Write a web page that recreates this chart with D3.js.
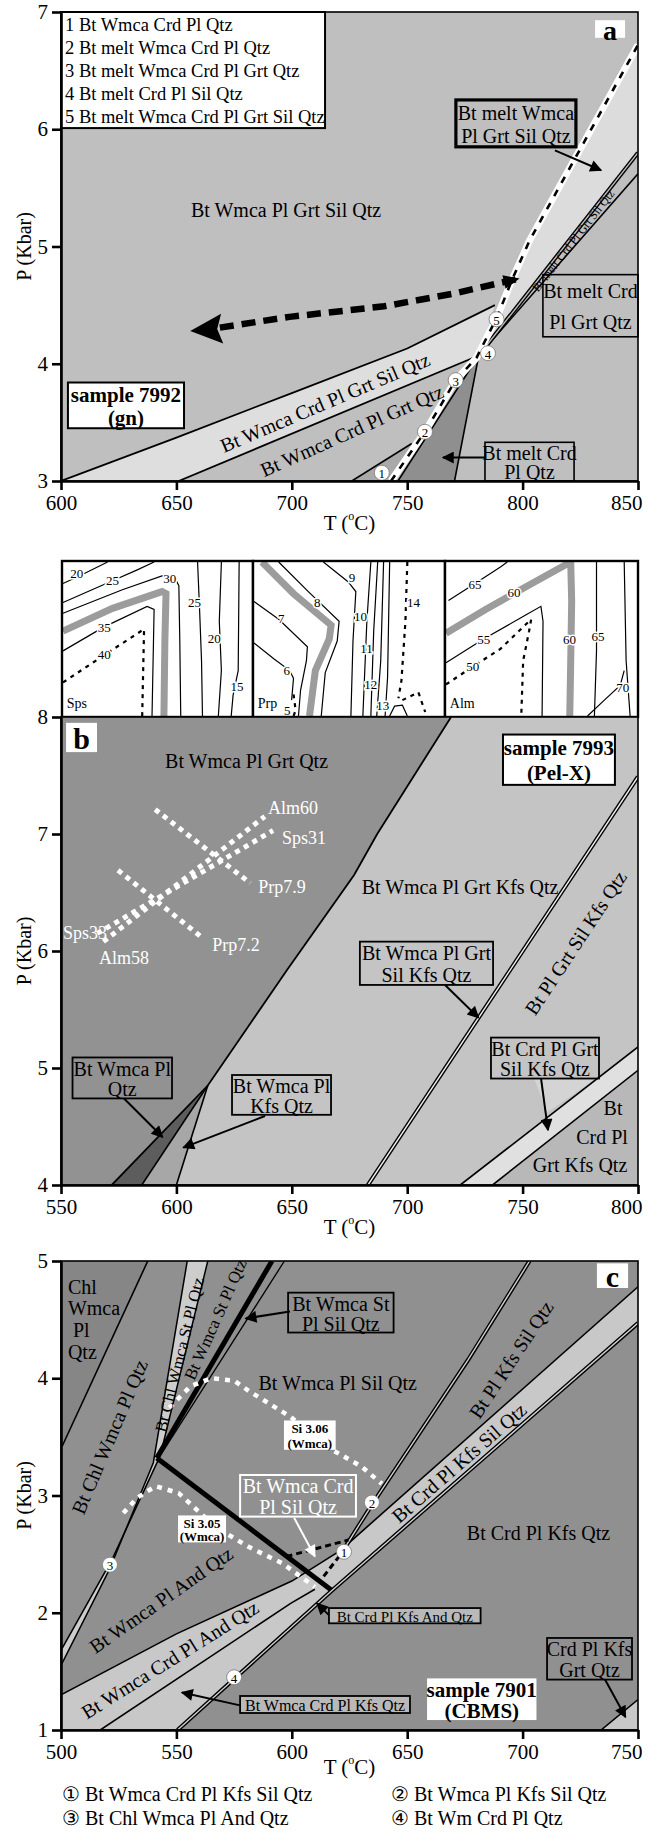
<!DOCTYPE html>
<html>
<head>
<meta charset="utf-8">
<script src="https://cdn.jsdelivr.net/npm/d3@7/dist/d3.min.js"></script>
<style>
  body { margin: 0; background: #fff; }
</style>
</head>
<body>
<div id="root"></div>
<script>
// ---------- panel a : sample 7992 (gn) ----------
const aTicksT = [600, 650, 700, 750, 800, 850];
const aTicksP = [3, 4, 5, 6, 7];
const aLegend = ["1 Bt Wmca Crd Pl Qtz", "2 Bt melt Wmca Crd Pl Qtz", "3 Bt melt Wmca Crd Pl Grt Qtz",
  "4 Bt melt Crd Pl Sil Qtz", "5 Bt melt Wmca Crd Pl Grt Sil Qtz"];
const aBandUpper = [[600, 3.0], [650, 3.37], [700, 3.75], [750, 4.13], [788, 4.5]];
const aBandLower = [[651, 3.0], [781, 4.07]];
const aField1 = [[726, 3.0], [743, 3.0], [752, 3.32]];
const aDarkField = [[746, 3.0], [770.5, 3.0], [781, 4.07]];
const aMeltBand = [[781, 4.07], [789, 4.4], [795.5, 4.72], [803, 5.05], [850, 6.72], [850, 5.8]];
const aWhiteDash = [[743, 3.0], [758, 3.43], [771, 3.86], [780, 4.05], [789, 4.4], [795.5, 4.72], [803, 5.05], [850, 6.72]];
const aLineA = [[781, 4.07], [850, 5.8]];
const aLineB = [[770.5, 3.0], [781, 4.07], [850, 5.62]];
const aLineDark = [[746, 3.0], [781, 4.07]];
const aLine1 = [[726, 3.0], [752, 3.32]];
const aPath = [[797, 4.72], [770.5, 4.6], [740, 4.49], [699, 4.4], [663, 4.29], [656, 4.28]];
const aPoints = [{n: "1", t: 739, p: 3.07}, {n: "2", t: 757.7, p: 3.42}, {n: "3", t: 771, p: 3.86},
  {n: "4", t: 785, p: 4.09}, {n: "5", t: 788.7, p: 4.38}];

// ---------- insets (normalised 0-100 frames) ----------
const insetNames = ["Sps", "Prp", "Alm"];
const insetSolid = [
  [[[0, 86], [10.5, 92], [23.6, 100]],
   [[83.8, 100], [82.7, 61.5], [83.8, 29.5], [82.2, 0]],
   [[0, 73.7], [26.2, 87.8], [39.3, 94.9], [48.2, 100]],
   [[71.2, 100], [72.3, 68], [73.3, 35.9], [73.8, 0]],
   [[0, 66.7], [31.4, 82], [52.4, 91], [58.6, 91], [61.3, 84.6], [61.8, 48.7], [62.3, 0]],
   [[0, 42.3], [21.5, 57.7], [44.5, 71.2], [48.2, 69.2], [47.1, 0]],
   [[93.2, 100], [92.7, 29.5], [90, 13.5], [89, 0]]],
  [[[13, 100], [28.6, 80.8], [44.8, 61.5], [43.8, 48.7], [37.5, 28.2], [35.4, 0]],
   [[0, 74.4], [13, 62.8], [28.1, 44.9], [27.6, 35.9], [24.5, 16.7], [23.4, 0]],
   [[0, 47.4], [10.4, 37.2], [18.8, 29.5], [20.8, 24.4], [19.8, 10.3]],
   [[36.5, 100], [49.5, 87.2], [53.6, 80.8], [52.1, 48.7], [51, 0]],
   [[61.5, 100], [59.4, 61.5], [57.3, 0]],
   [[65.1, 100], [63, 55.1], [61.5, 0]],
   [[68.2, 100], [66.7, 35.9], [64.6, 0]],
   [[71.4, 100], [70.3, 25], [69, 0]],
   [[71.4, 0], [74, 6.4], [78.1, 7], [80.7, 0]]],
  [[[1.3, 75], [15, 85.9], [28.5, 96.8], [32.1, 100]],
   [[0, 34.6], [19.7, 50], [41.5, 65.4], [49.7, 71.2], [50.8, 61.5], [50.3, 0]],
   [[78.8, 100], [78.8, 42.3], [77.7, 0]],
   [[93.3, 100], [94.3, 35.9], [96.4, 0]],
   [[74.1, 0], [82.9, 10.3], [91.2, 19.9], [93.3, 29.5]]]
];
const insetBand = [
  [[0, 55.1], [26.2, 69.9], [52.4, 80.8], [54.5, 79.5], [53.9, 48.7], [53.4, 0]],
  [[4.2, 100], [20.8, 79.5], [40.6, 59], [39.6, 50], [32.3, 29.5], [29.2, 0]],
  [[0, 53.8], [20.7, 69.2], [46.6, 87.2], [65.3, 100], [65.8, 74.4], [65.3, 35.9], [64.8, 0]]
];
const insetDashed = [
  [[[0, 21.8], [22, 39.7], [42.9, 56.4], [41.9, 0]]],
  [[[80.7, 100], [79.7, 61.5], [77.6, 23], [76, 11.5]], [[78.1, 10.3], [86.5, 15.4], [90.1, 2.6]],
   [[20.8, 14.1], [21.9, 3.8], [20.8, 0]]],
  [[[0, 20.5], [14, 32], [28.5, 43.6], [44.6, 62.8], [43.5, 55.1], [40.4, 35.9], [39.4, 0]]]
];
const insetLabels = [
  [["20", 7.3, 92.3], ["25", 26.2, 87.8], ["30", 56.5, 89.1], ["35", 21.8, 57.7], ["40", 21.8, 39.7],
   ["25", 69.6, 73.7], ["20", 80, 50.6], ["15", 92.1, 19.2]],
  [["7", 14.4, 63.5], ["8", 33.3, 73.9], ["9", 51.6, 89.7], ["10", 56, 64.3], ["11", 59.2, 44],
   ["12", 61.4, 20.5], ["13", 67.7, 6.6], ["14", 83.9, 73.7], ["6", 17.2, 29.5], ["5", 17.5, 3.5]],
  [["65", 15.2, 85.7], ["60", 35.6, 80.1], ["55", 19.7, 50], ["50", 14, 32], ["60", 64.6, 50],
   ["65", 79.6, 51.3], ["70", 92.5, 18.6]]
];

// ---------- panel b : sample 7993 (Pel-X) ----------
const bTicksT = [550, 600, 650, 700, 750, 800];
const bTicksP = [4, 5, 6, 7, 8];
const bDarkEdge = [[719, 8], [687, 7], [677, 6.65], [648, 5.84], [613.6, 4.85], [572, 4]];
const bWedgeDark = [[572, 4], [585, 4], [613.6, 4.85]];
const bWedgeMid = [[585, 4], [600, 4], [613.6, 4.85]];
const bSilLine = [[683, 4], [800, 7.49]];
const bCrdUpper = [[723, 4], [800, 5.18]];
const bCrdLower = [[737, 4], [800, 4.98]];
const bIso = [
  {name: "Alm", pts: [[568.4, 6.08], [638.3, 7.15]]},
  {name: "Sps", pts: [[565.7, 6.15], [641.9, 7.03]]},
  {name: "Prp7.9", pts: [[590.8, 7.21], [632, 6.58]]},
  {name: "Prp7.2", pts: [[574.7, 6.69], [611.4, 6.11]]}
];
const bIsoLabels = [["Alm60", 650.5, 7.22], ["Sps31", 655.3, 6.97], ["Prp7.9", 645.8, 6.55],
  ["Prp7.2", 625.8, 6.05], ["Sps33", 560.4, 6.15], ["Alm58", 577.3, 5.94]];

// ---------- panel c : sample 7901 (CBMS) ----------
const cTicksT = [500, 550, 600, 650, 700, 750];
const cTicksP = [1, 2, 3, 4, 5];
const cChl = [[500.5, 3.42], [537.6, 5]];
const cStBandLeft = [[500, 1.55], [521, 2.37], [540, 3.28], [554.7, 5]];
const cStBandRight = [[500, 1.68], [522, 2.45], [543, 3.34], [563.6, 5]];
const cStUpper = [[541.5, 3.32], [591.4, 5]];
const cStThin = [[543, 3.34], [596.8, 5]];
const cStLower = [[541.5, 3.32], [617.4, 2.19]];
const cLA = [[500, 1.3], [550, 1.82], [600, 2.27], [621, 2.53]];
const cLB = [[517, 1], [599.5, 2.08], [610, 2.2]];
const cDL = [[550.5, 1], [617.4, 2.19], [750, 4.47]];
const cLU = [[621, 2.53], [750, 4.78]];
const cDL2 = [[622.8, 2.55], [635.3, 2.94], [676.5, 4.16], [703, 5]];
const cGrt = [[734, 1], [750, 1.26]];
const cSi306 = [[547, 3.75], [556, 3.93], [565, 4.0], [575, 3.98], [581.5, 3.89], [599.5, 3.67],
  [617.4, 3.39], [630, 3.25], [639, 3.1]];
const cSi305 = [[527, 2.85], [533, 2.98], [541, 3.08], [551, 3.02], [567, 2.73], [581.5, 2.56],
  [596, 2.42], [610, 2.22]];
const cReact = [[[597.7, 2.48], [624.5, 2.62]], [[613.8, 2.31], [622.8, 2.54]]];
const cPoints = [{n: "1", t: 622.6, p: 2.52}, {n: "2", t: 634.7, p: 2.94},
  {n: "3", t: 521.2, p: 2.41}, {n: "4", t: 575, p: 1.45}];
const cLegend = ["\u2460 Bt Wmca Crd Pl Kfs Sil Qtz", "\u2461 Bt Wmca Pl Kfs Sil Qtz",
  "\u2462 Bt Chl Wmca Pl And Qtz", "\u2463 Bt Wm Crd Pl Qtz"];

// ---------- drawing ----------
const SERIF = '"Liberation Serif", "Times New Roman", serif';
const X0 = 61, X1 = 638;
const svg = d3.select("#root").append("svg").attr("width", 649).attr("height", 1836)
  .style("font-family", SERIF);
const defs = svg.append("defs");
["black", "white"].forEach(c => {
  defs.append("marker").attr("id", "arr-" + c).attr("viewBox", "0 0 10 10")
    .attr("refX", 9).attr("refY", 5).attr("markerWidth", 14).attr("markerHeight", 12)
    .attr("markerUnits", "userSpaceOnUse").attr("orient", "auto")
    .append("path").attr("d", "M0,0L10,5L0,10z").attr("fill", c);
});

let panel = (tDom, pDom, yTop, yBot) => ({
  x: d3.scaleLinear().domain(tDom).range([X0, X1]),
  y: d3.scaleLinear().domain(pDom).range([yBot, yTop])
});
const sA = panel([600, 850], [3, 7], 12, 481);
const sB = panel([550, 800], [4, 8], 717, 1185);
const sC = panel([500, 750], [1, 5], 1261, 1730);

let lineGen = s => d3.line().x(d => s.x(d[0])).y(d => s.y(d[1]));
let polyGen = s => d3.line().x(d => s.x(d[0])).y(d => s.y(d[1])).curve(d3.curveLinearClosed);

let poly = (g, s, pts, fill) => g.append("path").attr("d", polyGen(s)(pts)).attr("fill", fill);
let path = (g, s, pts, w, col, dash) => g.append("path").attr("d", lineGen(s)(pts))
  .attr("fill", "none").attr("stroke", col || "#000").attr("stroke-width", w || 1.6)
  .attr("stroke-dasharray", dash || null);
let dbl = (g, s, pts, inner) => {
  path(g, s, pts, 4.2, "#000");
  path(g, s, pts, 1.4, inner || "#eee");
};
let txt = (g, s, t, p, str, o = {}) => {
  const el = g.append("text").attr("x", s.x(t)).attr("y", s.y(p))
    .attr("font-size", o.size || 20).attr("font-weight", o.bold ? "bold" : null)
    .attr("fill", o.fill || "#000").attr("text-anchor", o.anchor || "middle")
    .attr("dominant-baseline", "central").text(str);
  if (o.rot) el.attr("transform", `rotate(${o.rot},${s.x(t)},${s.y(p)})`);
  return el;
};
// b = [tLeft, pTop, tRight, pBottom]
let boxLabel = (g, s, b, lines, o = {}) => {
  const x0 = s.x(b[0]), x1 = s.x(b[2]), y0 = s.y(b[1]), y1 = s.y(b[3]);
  g.append("rect").attr("x", x0).attr("y", y0).attr("width", x1 - x0).attr("height", y1 - y0)
    .attr("fill", o.bg || "none").attr("stroke", o.stroke || "#000")
    .attr("stroke-width", o.sw === undefined ? 1.8 : o.sw);
  const lh = (y1 - y0) / lines.length;
  lines.forEach((l, i) => g.append("text").attr("x", (x0 + x1) / 2).attr("y", y0 + lh * (i + 0.5) + 1)
    .attr("text-anchor", "middle").attr("dominant-baseline", "central")
    .attr("font-size", o.size || 20).attr("font-weight", o.bold ? "bold" : null)
    .attr("fill", o.fill || "#000").text(l));
};
let arrow = (g, s, a, b, col) => g.append("line")
  .attr("x1", s.x(a[0])).attr("y1", s.y(a[1])).attr("x2", s.x(b[0])).attr("y2", s.y(b[1]))
  .attr("stroke", col || "#000").attr("stroke-width", 2).attr("marker-end", `url(#arr-${col || "black"})`);
let circ = (g, s, d) => {
  g.append("circle").attr("cx", s.x(d.t)).attr("cy", s.y(d.p)).attr("r", 7.5)
    .attr("fill", "#fff").attr("stroke", "#777").attr("stroke-width", 0.8);
  g.append("text").attr("x", s.x(d.t)).attr("y", s.y(d.p) + 1).attr("text-anchor", "middle")
    .attr("dominant-baseline", "central").attr("font-size", 13).text(d.n);
};
let clipped = (id, s) => {
  defs.append("clipPath").attr("id", id).append("rect")
    .attr("x", X0).attr("y", s.y.range()[1]).attr("width", X1 - X0)
    .attr("height", s.y.range()[0] - s.y.range()[1]);
  return svg.append("g").attr("clip-path", `url(#${id})`);
};
let axes = (s, tTicks, pTicks, yTitle, tTitleY) => {
  const g = svg.append("g");
  g.append("rect").attr("x", X0).attr("y", s.y.range()[1]).attr("width", X1 - X0)
    .attr("height", s.y.range()[0] - s.y.range()[1]).attr("fill", "none")
    .attr("stroke", "#000").attr("stroke-width", 1.6);
  const ya = g.append("g").attr("transform", `translate(${X0},0)`)
    .call(d3.axisLeft(s.y).tickValues(pTicks).tickFormat(d3.format("d"))
      .tickSize(9).tickSizeOuter(0).tickPadding(4));
  const xa = g.append("g").attr("transform", `translate(0,${s.y.range()[0]})`)
    .call(d3.axisBottom(s.x).tickValues(tTicks).tickFormat(d3.format("d"))
      .tickSize(9).tickSizeOuter(0).tickPadding(5));
  [ya, xa].forEach(a => {
    a.select(".domain").attr("stroke-width", 2.6);
    a.selectAll(".tick line").attr("stroke-width", 2.6);
    a.selectAll("text").attr("font-size", 21).attr("font-family", SERIF).attr("fill", "#000");
  });
  // last temperature label sits inside the right edge
  xa.selectAll(".tick text").filter(d => d === tTicks[tTicks.length - 1])
    .attr("text-anchor", "end").attr("x", 4);
  const yc = (s.y.range()[0] + s.y.range()[1]) / 2;
  g.append("text").attr("transform", `translate(24,${yc}) rotate(-90)`).attr("text-anchor", "middle")
    .attr("dominant-baseline", "central").attr("font-size", 20).text(yTitle);
  const tt = g.append("text").attr("x", (X0 + X1) / 2).attr("y", tTitleY).attr("text-anchor", "middle")
    .attr("dominant-baseline", "central").attr("font-size", 21);
  tt.append("tspan").text("T (");
  tt.append("tspan").attr("font-size", 12).attr("dy", -7).text("o");
  tt.append("tspan").attr("dy", 7).text("C)");
};

// ===== panel a =====
const fA = clipped("clipA", sA);
fA.append("rect").attr("x", X0).attr("y", 0).attr("width", X1 - X0).attr("height", 490).attr("fill", "#bfbfbf");
poly(fA, sA, aBandUpper.concat(aBandLower.slice().reverse()), "#dedede");
poly(fA, sA, aField1, "#a9a9a9");
poly(fA, sA, aDarkField, "#8f8f8f");
poly(fA, sA, aMeltBand, "#dcdcdc");
path(fA, sA, aBandUpper, 1.8);
path(fA, sA, aBandLower, 1.8);
path(fA, sA, aLine1, 1.6);
path(fA, sA, aLineDark, 1.6);
path(fA, sA, aLineB, 1.6);
dbl(fA, sA, aLineA, "#bdbdbd");
path(fA, sA, aWhiteDash, 7, "#fff");
path(fA, sA, aWhiteDash, 2.6, "#000", "7,8");
path(fA, sA, aPath.slice(0, -1), 6.5, "#000", "14,8");
{
  // left arrow head and small start head along the path
  const tip = aPath[aPath.length - 1], prev = aPath[aPath.length - 2];
  const ang = Math.atan2(sA.y(tip[1]) - sA.y(prev[1]), sA.x(tip[0]) - sA.x(prev[0])) * 180 / Math.PI;
  fA.append("path").attr("d", "M0,0L-32,-15L-27,0L-32,15z").attr("fill", "#000")
    .attr("transform", `translate(${sA.x(tip[0])},${sA.y(tip[1])}) rotate(${ang})`);
  const st = aPath[0], nx = aPath[1];
  const ang2 = Math.atan2(sA.y(st[1]) - sA.y(nx[1]), sA.x(st[0]) - sA.x(nx[0])) * 180 / Math.PI;
  fA.append("path").attr("d", "M4,0L-12,-7L-12,7z").attr("fill", "#000")
    .attr("transform", `translate(${sA.x(st[0])},${sA.y(st[1])}) rotate(${ang2})`);
}
const lA = svg.append("g");
lA.append("rect").attr("x", sA.x(600)).attr("y", sA.y(7)).attr("width", sA.x(714.4) - sA.x(600))
  .attr("height", sA.y(6.01) - sA.y(7)).attr("fill", "#fff").attr("stroke", "#000").attr("stroke-width", 2);
aLegend.forEach((l, i) => lA.append("text").attr("x", sA.x(600) + 4).attr("y", sA.y(7) + 13 + i * 23)
  .attr("dominant-baseline", "central").attr("font-size", 18.5).text(l));
boxLabel(lA, sA, [831.4, 6.93, 844.4, 6.78], ["a"], {bg: "#fff", sw: 0, size: 28, bold: true});
txt(lA, sA, 697.5, 5.31, "Bt Wmca Pl Grt Sil Qtz");
boxLabel(lA, sA, [771.1, 6.25, 823.1, 5.85], ["Bt melt Wmca", "Pl Grt Sil Qtz"], {sw: 3.2});
arrow(lA, sA, [814, 5.82], [834, 5.65]);
boxLabel(lA, sA, [603, 3.84, 653.3, 3.45], ["sample 7992", "(gn)"], {bg: "#fff", bold: true, size: 21, sw: 2});
boxLabel(lA, sA, [808.8, 4.76, 850, 4.23], ["Bt melt Crd", "Pl Grt Qtz"], {sw: 1.6});
boxLabel(lA, sA, [783.7, 3.33, 822.3, 3.0], ["Bt melt Crd", "Pl Qtz"], {sw: 1.6});
arrow(lA, sA, [783.7, 3.2], [765.5, 3.2]);
txt(lA, sA, 714.4, 3.67, "Bt Wmca Crd Pl Grt Sil Qtz", {rot: -23});
txt(lA, sA, 726, 3.43, "Bt Wmca Crd  Pl Grt Qtz", {rot: -24});
txt(lA, sA, 822, 5.05, "Bt melt Crd Pl Grt Sil Qtz", {rot: -52, size: 12});
aPoints.forEach(d => circ(lA, sA, d));
axes(sA, aTicksT, aTicksP, "P (Kbar)", 523);

// ===== insets =====
const insetCols = [[62, 253], [253, 445], [445, 638]];
insetNames.forEach((nm, i) => {
  const sx = d3.scaleLinear().domain([0, 100]).range([insetCols[i][0] + 1, insetCols[i][1] - 1]);
  const sy = d3.scaleLinear().domain([0, 100]).range([716, 562]);
  const s = {x: sx, y: sy};
  const id = "clipI" + i;
  defs.append("clipPath").attr("id", id).append("rect").attr("x", insetCols[i][0]).attr("y", 561)
    .attr("width", insetCols[i][1] - insetCols[i][0]).attr("height", 156);
  const g = svg.append("g").attr("clip-path", `url(#${id})`);
  g.append("rect").attr("x", insetCols[i][0]).attr("y", 561).attr("width", insetCols[i][1] - insetCols[i][0])
    .attr("height", 156).attr("fill", "#fff");
  path(g, s, insetBand[i], 7, "#9c9c9c");
  insetSolid[i].forEach(pts => path(g, s, pts, 1.2));
  insetDashed[i].forEach(pts => path(g, s, pts, 2.2, "#000", "4,5"));
  insetLabels[i].forEach(l => txt(g, s, l[1], l[2], l[0], {size: 13})
    .attr("stroke", "#fff").attr("stroke-width", 3).attr("paint-order", "stroke"));
  txt(g, s, 2, 8, nm, {size: 14, anchor: "start"}).attr("stroke", "#fff").attr("stroke-width", 3)
    .attr("paint-order", "stroke");
  svg.append("rect").attr("x", insetCols[i][0]).attr("y", 561).attr("width", insetCols[i][1] - insetCols[i][0])
    .attr("height", 156).attr("fill", "none").attr("stroke", "#000").attr("stroke-width", 2.4);
});

// ===== panel b =====
const fB = clipped("clipB", sB);
fB.append("rect").attr("x", X0).attr("y", 700).attr("width", X1 - X0).attr("height", 500).attr("fill", "#c4c4c4");
poly(fB, sB, [[550, 8]].concat(bDarkEdge, [[550, 4]]), "#929292");
poly(fB, sB, bWedgeDark, "#5d5d5d");
poly(fB, sB, bWedgeMid, "#a7a7a7");
poly(fB, sB, [[800, 4]].concat(bCrdLower), "#b8b8b8");
poly(fB, sB, bCrdUpper.concat(bCrdLower.slice().reverse()), "#e0e0e0");
poly(fB, sB, [[755, 4.91], [782, 4.91], [760.6, 4.62]], "#d4d4d4");
path(fB, sB, bDarkEdge, 1.8);
path(fB, sB, bWedgeDark.slice(1), 1.6);
path(fB, sB, bWedgeMid.slice(1), 1.6);
dbl(fB, sB, bSilLine, "#f2f2f2");
path(fB, sB, bCrdUpper, 1.6);
path(fB, sB, bCrdLower, 1.6);
bIso.forEach(d => path(fB, sB, d.pts, 5, "#fff", "5,5"));
const lB = svg.append("g");
bIsoLabels.forEach(l => txt(lB, sB, l[1], l[2], l[0], {size: 18, fill: "#fff"}));
boxLabel(lB, sB, [552.2, 7.95, 565.6, 7.7], ["b"], {bg: "#fff", sw: 0, size: 30, bold: true});
txt(lB, sB, 630.4, 7.62, "Bt Wmca Pl Grt Qtz");
boxLabel(lB, sB, [741.5, 7.85, 790, 7.42], ["sample 7993", "(Pel-X)"], {bg: "#fff", bold: true, size: 21, sw: 2});
txt(lB, sB, 722.9, 6.55, "Bt Wmca Pl Grt Kfs Qtz");
txt(lB, sB, 773, 6.07, "Bt Pl Grt Sil Kfs Qtz", {rot: -56.5});
boxLabel(lB, sB, [679.5, 6.08, 737.2, 5.71], ["Bt Wmca Pl Grt", "Sil Kfs Qtz"]);
arrow(lB, sB, [716.4, 5.71], [730.9, 5.43]);
boxLabel(lB, sB, [736.3, 5.26, 783.1, 4.91], ["Bt Crd Pl Grt", "Sil Kfs Qtz"]);
arrow(lB, sB, [758, 4.91], [761, 4.47]);
txt(lB, sB, 789.2, 4.66, "Bt");
txt(lB, sB, 784.4, 4.41, "Crd Pl");
txt(lB, sB, 774.9, 4.17, "Grt Kfs Qtz");
boxLabel(lB, sB, [555, 5.09, 598.1, 4.74], ["Bt Wmca Pl", "Qtz"]);
arrow(lB, sB, [577.3, 4.74], [594, 4.41]);
boxLabel(lB, sB, [624.1, 4.94, 667, 4.6], ["Bt Wmca Pl", "Kfs Qtz"]);
arrow(lB, sB, [638.4, 4.59], [603, 4.32]);
axes(sB, bTicksT, bTicksP, "P (Kbar)", 1227);

// ===== panel c =====
const fC = clipped("clipC", sC);
fC.append("rect").attr("x", X0).attr("y", 1250).attr("width", X1 - X0).attr("height", 500).attr("fill", "#909090");
poly(fC, sC, [[500, 5]].concat(cChl.slice().reverse(), [[500, 3.42]]), "#868686");
poly(fC, sC, cStBandLeft.concat(cStBandRight.slice().reverse()), "#cdcdcd");
poly(fC, sC, [[500, 1]].concat(cLA, cLU.slice(1), cDL.slice().reverse()), "#c8c8c8");
poly(fC, sC, [[750, 1]].concat(cGrt), "#c8c8c8");
path(fC, sC, cChl, 1.6);
path(fC, sC, cStBandLeft, 1.5);
path(fC, sC, cStBandRight, 1.5);
path(fC, sC, cStThin, 1.3);
path(fC, sC, cStUpper, 5);
path(fC, sC, cStLower, 5);
path(fC, sC, cLA, 1.6);
path(fC, sC, cLB, 1.6);
dbl(fC, sC, cDL, "#d0d0d0");
path(fC, sC, cLU, 1.6);
dbl(fC, sC, cDL2, "#d0d0d0");
path(fC, sC, cGrt, 1.6);
path(fC, sC, cSi306, 4.5, "#fff", "5,6");
path(fC, sC, cSi305, 4.5, "#fff", "5,6");
cReact.forEach(pts => path(fC, sC, pts, 3, "#000", "6,4"));
const lC = svg.append("g");
boxLabel(lC, sC, [732.2, 4.98, 745.7, 4.77], ["c"], {bg: "#fff", sw: 0, size: 30, bold: true});
[["Chl", 4.78], ["Wmca", 4.6], [" Pl", 4.41], ["Qtz", 4.22]].forEach(l =>
  txt(lC, sC, 503, l[1], l[0], {anchor: "start"}).attr("xml:space", "preserve"));
boxLabel(lC, sC, [598.4, 4.73, 644.1, 4.39], ["Bt Wmca St", "Pl Sil Qtz"]);
arrow(lC, sC, [599.2, 4.57], [580, 4.51]);
txt(lC, sC, 619.9, 3.96, "Bt Wmca Pl Sil Qtz");
txt(lC, sC, 706.9, 2.68, "Bt Crd Pl Kfs Qtz");
txt(lC, sC, 695, 4.16, "Bt Pl Kfs Sil Qtz", {rot: -56.5});
txt(lC, sC, 672.5, 3.28, "Bt Crd Pl Kfs Sil Qtz", {rot: -41});
txt(lC, sC, 521, 3.5, "Bt Chl Wmca Pl Qtz", {rot: -67});
txt(lC, sC, 551.5, 4.2, "Bt Chl Wmca St Pl Qtz", {rot: -76, size: 17});
txt(lC, sC, 567, 4.5, "Bt Wmca St Pl Qtz", {rot: -66, size: 17});
txt(lC, sC, 543.3, 2.11, "Bt Wmca Pl And Qtz", {rot: -35});
txt(lC, sC, 547.2, 1.6, "Bt Wmca Crd Pl And Qtz", {rot: -32});
boxLabel(lC, sC, [616.1, 2.04, 681.8, 1.91], ["Bt Crd Pl Kfs And Qtz"], {bg: "#b9b9b9", size: 15});
arrow(lC, sC, [616.1, 1.98], [610.9, 2.08]);
boxLabel(lC, sC, [577.6, 1.29, 651.2, 1.145], ["Bt Wmca Crd Pl Kfs Qtz"], {bg: "#b9b9b9", size: 16});
arrow(lC, sC, [577.6, 1.21], [552.4, 1.32]);
boxLabel(lC, sC, [658.6, 1.44, 706, 1.085], ["sample 7901", "(CBMS)"], {bg: "#fff", bold: true, size: 21, sw: 0});
boxLabel(lC, sC, [710.6, 1.785, 747.4, 1.43], ["Crd Pl Kfs", "Grt Qtz"]);
arrow(lC, sC, [735.7, 1.43], [744.6, 1.11]);
boxLabel(lC, sC, [596.6, 3.64, 619, 3.39], ["Si 3.06", "(Wmca)"], {bg: "#fff", sw: 0, size: 13, bold: true});
boxLabel(lC, sC, [550.7, 2.83, 571.5, 2.6], ["Si 3.05", "(Wmca)"], {bg: "#fff", sw: 0, size: 13, bold: true});
boxLabel(lC, sC, [577.6, 3.175, 627.8, 2.82], ["Bt Wmca Crd", "Pl Sil Qtz"], {stroke: "#fff", fill: "#fff", sw: 2});
arrow(lC, sC, [601, 2.81], [610, 2.48], "white");
cPoints.forEach(d => circ(lC, sC, d));
axes(sC, cTicksT, cTicksP, "P (Kbar)", 1767);

// legend under panel c
cLegend.forEach((l, i) => svg.append("text").attr("x", i % 2 ? 391 : 62).attr("y", i < 2 ? 1794 : 1818)
  .attr("dominant-baseline", "central").attr("font-size", 20).text(l));
</script>
</body>
</html>
